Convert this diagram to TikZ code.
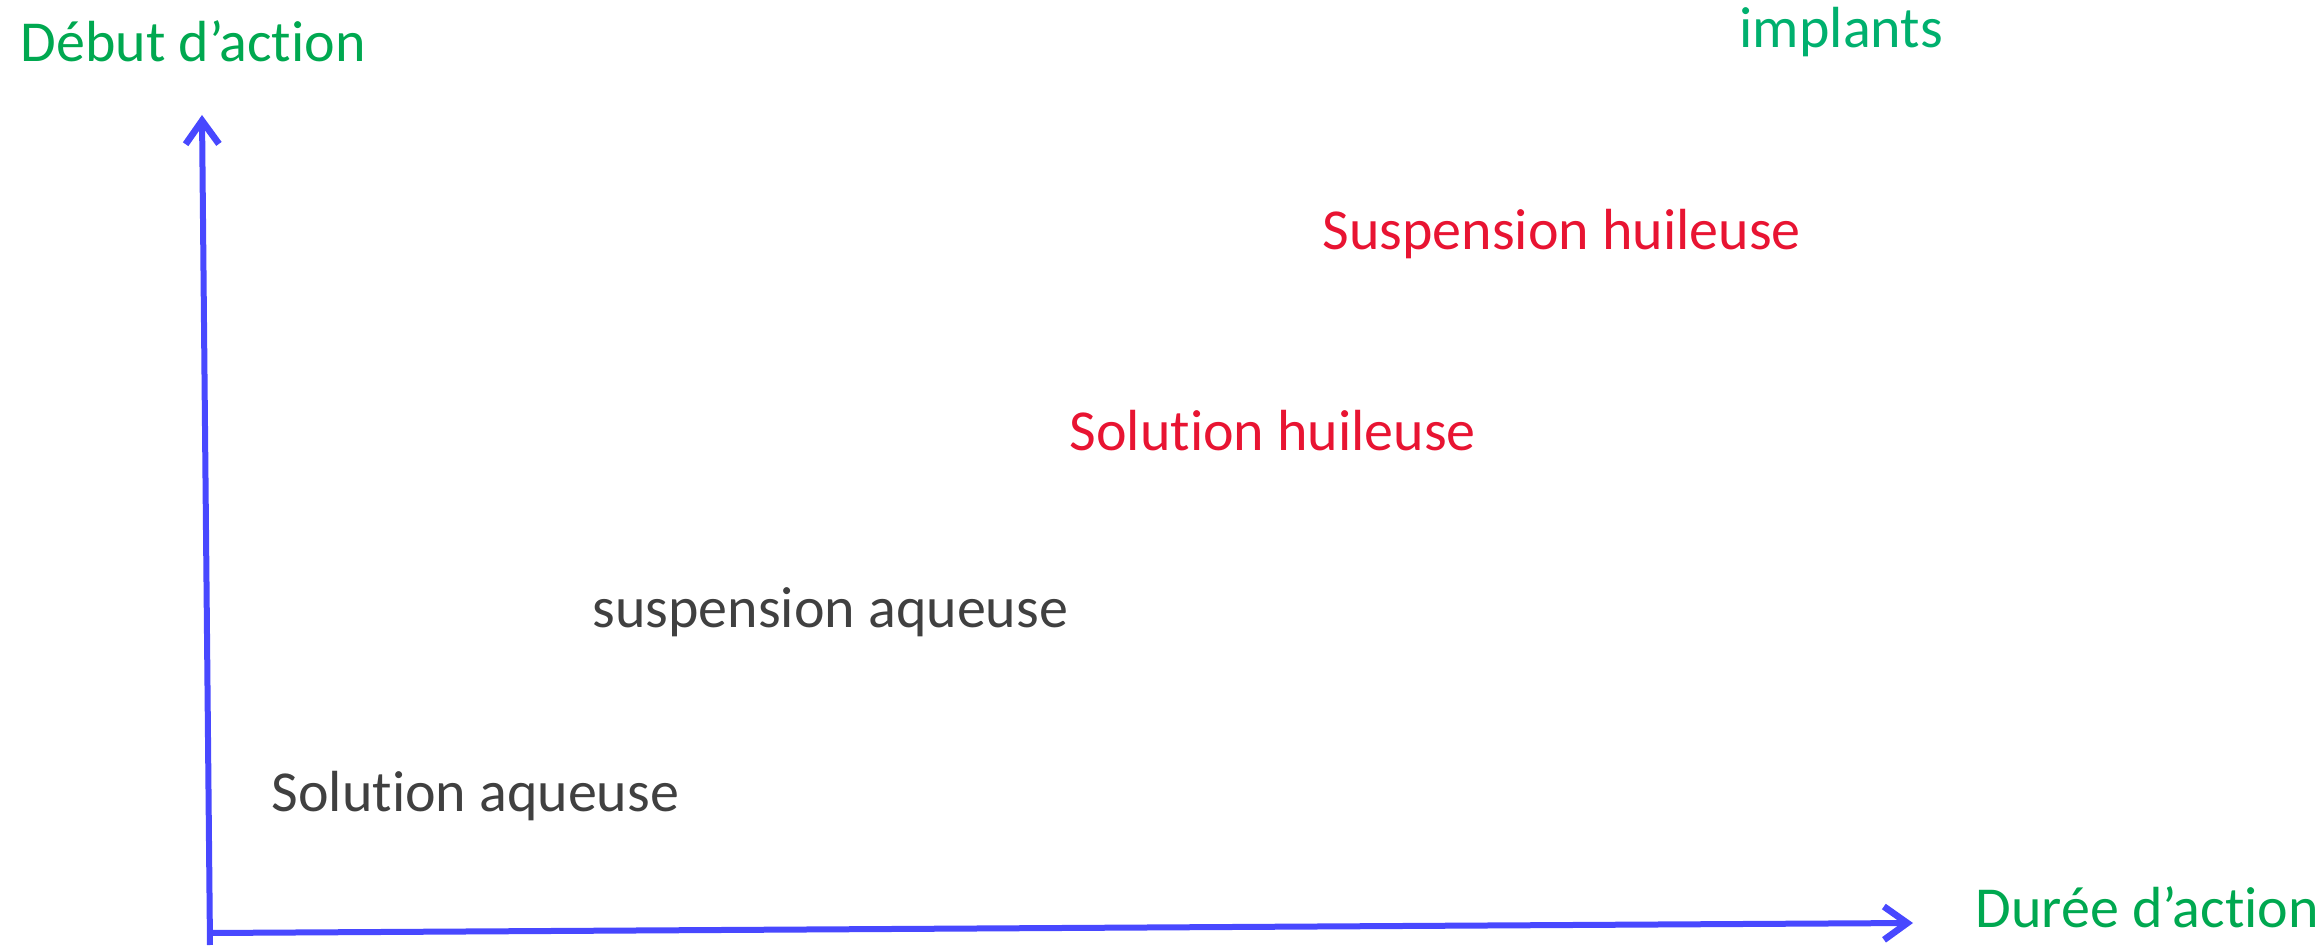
\documentclass[tikz,border=0pt]{standalone}
\usepackage{fontspec}
\setmainfont[Ligatures=NoCommon]{Carlito}
\usetikzlibrary{arrows.meta}
\definecolor{axisblue}{RGB}{72,72,255}
\definecolor{lblgreen}{RGB}{0,168,80}
\definecolor{lblteal}{RGB}{0,176,110}
\definecolor{lblred}{RGB}{232,20,50}
\definecolor{lbldark}{RGB}{64,64,64}
\begin{document}
\begin{tikzpicture}[x=0.3pt,y=-0.3pt,
  lbl/.style={inner sep=0pt,anchor=base west,font=\fontsize{17.4}{20}\selectfont},
  axis/.style={draw=axisblue,line width=1.8pt,-{Straight Barb[length=7pt,width=10pt,line width=2pt]}}]
\useasboundingbox (0,0) rectangle (2321,947);
\coordinate (O) at (210,933);
\coordinate (Obot) at (210,945);
\coordinate (Ytip) at (202,115);
\coordinate (Xtip) at (1913,923);
\draw[axis] (Obot) -- (Ytip);
\draw[axis] (O) -- (Xtip);
\node[lbl,text=lblgreen] (debut) at (20,62) {Début d’action};
\node[lbl,text=lblteal] (implants) at (1739,48) {implants};
\node[lbl,text=lblred] (susph) at (1322,250) {Suspension huileuse};
\node[lbl,text=lblred] (solh) at (1069,450) {Solution huileuse};
\node[lbl,text=lbldark] (suspa) at (592,628) {suspension aqueuse};
\node[lbl,text=lbldark] (sola) at (271,811) {Solution aqueuse};
\node[lbl,text=lblgreen] (duree) at (1975,927) {Durée d’action};
\end{tikzpicture}
\end{document}
